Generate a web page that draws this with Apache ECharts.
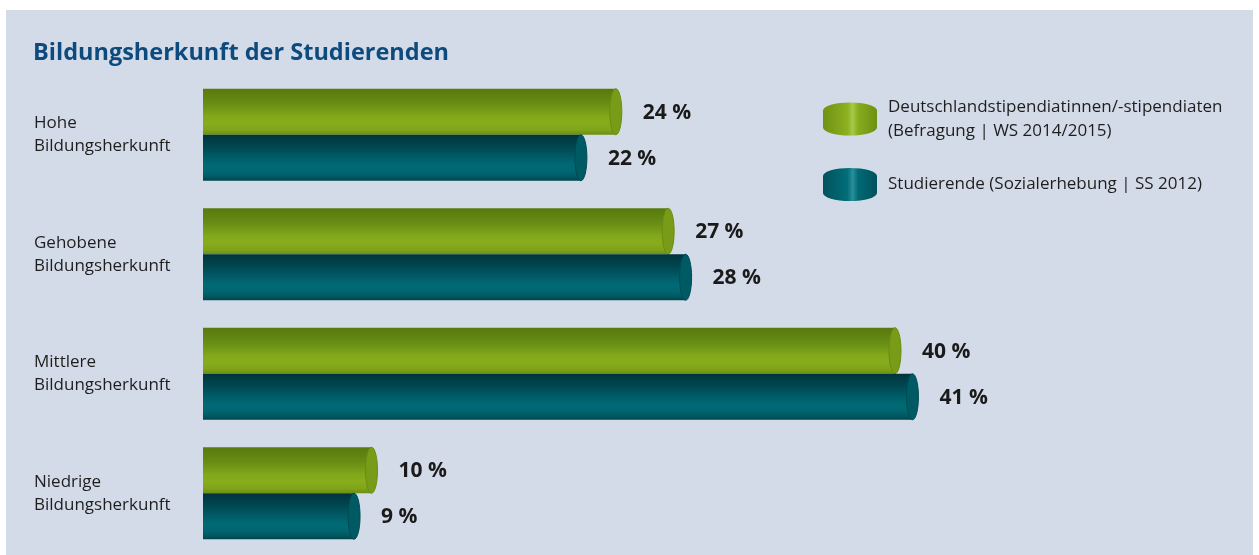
<!DOCTYPE html>
<html>
<head>
<meta charset="utf-8">
<script src="https://cdn.jsdelivr.net/npm/echarts@6/dist/echarts.min.js"></script>
<style>html,body{margin:0;padding:0;background:#fff}#c{width:1259px;height:555px}</style>
</head>
<body>
<div id="c"></div>
<script>
const categories = ['Hohe\nBildungsherkunft', 'Gehobene\nBildungsherkunft', 'Mittlere\nBildungsherkunft', 'Niedrige\nBildungsherkunft'];
const seriesNames = ['Deutschlandstipendiatinnen/-stipendiaten\n(Befragung | WS 2014/2015)', 'Studierende (Sozialerhebung | SS 2012)'];
const stipendiatenValues = [24, 27, 40, 10];
const studierendeValues = [22, 28, 41, 9];
const titleText = 'Bildungsherkunft der Studierenden';

const FONT = 'Open Sans';
const BAR_H = 46;
const CAP_RX = 6;

function vgrad(stops) {
  return new echarts.graphic.LinearGradient(0, 0, 0, 1, stops.map(s => ({offset: s[0], color: s[1]})));
}
const greenBody = vgrad([[0,'#587a0e'],[0.12,'#5d8010'],[0.3,'#678b13'],[0.45,'#739917'],[0.6,'#82a81b'],[0.75,'#87ad1c'],[0.9,'#7fa31a'],[1,'#6b8e12']]);
const tealBody = vgrad([[0,'#00333b'],[0.12,'#003d46'],[0.3,'#004a54'],[0.5,'#005d68'],[0.65,'#006974'],[0.8,'#006772'],[0.93,'#00565f'],[1,'#00434c']]);
const greenCap = '#789c18';
const tealCap = '#005a64';

function makeRender(bodyFill, capFill, edge, dir) {
  return function (params, api) {
    const v = api.value(0);
    const c = api.value(1);
    const end = api.coord([v, c]);
    const start = api.coord([0, c]);
    const yTop = dir < 0 ? end[1] - BAR_H : end[1];
    const capCx = end[0] - CAP_RX;
    return {
      type: 'group',
      children: [
        {type: 'rect', shape: {x: start[0], y: yTop, width: capCx - start[0], height: BAR_H}, style: {fill: bodyFill}},
        {type: 'ellipse', shape: {cx: capCx, cy: yTop + BAR_H / 2, rx: CAP_RX, ry: BAR_H / 2}, style: {fill: capFill, stroke: edge, lineWidth: 1}},
        {type: 'text', x: end[0] + 21, y: yTop + BAR_H / 2 + 1, style: {text: v + ' %', fill: '#1a1a1a', font: 'bold 21px "' + FONT + '"', verticalAlign: 'middle', align: 'left'}}
      ]
    };
  };
}

const chart = echarts.init(document.getElementById('c'), null, {renderer: 'canvas'});
chart.setOption({
  backgroundColor: '#ffffff',
  animation: false,
  graphic: [
    {type: 'rect', z: -10, shape: {x: 6, y: 10, width: 1247, height: 545}, style: {fill: '#d4dbe8'}}
  ],
  title: {
    text: titleText, left: 28, top: 36,
    textStyle: {fontFamily: FONT, fontWeight: 'bold', fontSize: 23.5, color: '#0d4a7d'}
  },
  legend: {
    orient: 'vertical', left: 818, top: 90, itemGap: 25, itemWidth: 54, itemHeight: 33,
    icon: 'path://M0,8 A27,8 0 0,1 54,8 L54,25 A27,8 0 0,1 0,25 Z',
    textStyle: {fontFamily: FONT, fontSize: 17, color: '#1e1e1e', lineHeight: 24, padding: [0, 0, 0, 6]},
    data: [
      {name: seriesNames[0], itemStyle: {color: new echarts.graphic.LinearGradient(0,0,1,0,[{offset:0,color:'#6f9214'},{offset:0.45,color:'#8cb01f'},{offset:0.55,color:'#a6c94a'},{offset:0.65,color:'#88ac1c'},{offset:1,color:'#6d9013'}])}},
      {name: seriesNames[1], itemStyle: {color: new echarts.graphic.LinearGradient(0,0,1,0,[{offset:0,color:'#00535d'},{offset:0.45,color:'#006d78'},{offset:0.55,color:'#2a8f98'},{offset:0.65,color:'#006a75'},{offset:1,color:'#00515b'}])}}
    ]
  },
  grid: {left: 203, right: 9, top: 75, bottom: 2, containLabel: false},
  xAxis: {type: 'value', min: 0, max: 60, show: false},
  yAxis: {
    type: 'category', data: categories, inverse: true,
    axisLine: {show: false}, axisTick: {show: false}, splitLine: {show: false},
    axisLabel: {align: 'left', margin: 169, fontFamily: FONT, fontSize: 17, color: '#1e1e1e', lineHeight: 23}
  },
  series: [
    {name: seriesNames[0], type: 'custom', itemStyle: {color: '#7fa31a'}, encode: {x: 0, y: 1},
     data: stipendiatenValues.map((v, i) => [v, i]), renderItem: makeRender(greenBody, greenCap, '#6a8c12', -1)},
    {name: seriesNames[1], type: 'custom', itemStyle: {color: '#00626d'}, encode: {x: 0, y: 1},
     data: studierendeValues.map((v, i) => [v, i]), renderItem: makeRender(tealBody, tealCap, '#004a53', 1)}
  ]
});
</script>
</body>
</html>
